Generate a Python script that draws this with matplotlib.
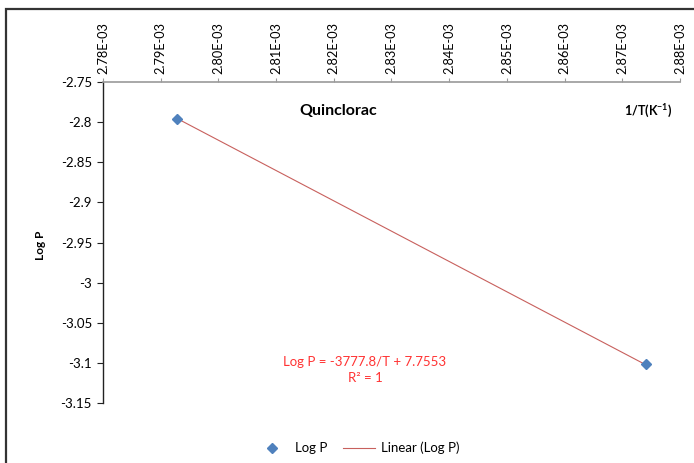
import numpy as np
import matplotlib.pyplot as plt
from matplotlib.patches import Rectangle

plt.rcParams['font.family'] = ['Lato', 'DejaVu Sans']
plt.rcParams['mathtext.default'] = 'regular'

# data
inv_T = [2.7929e-3, 2.8741e-3]
log_p = [-2.796, -3.102]
slope = -3777.8
intercept = 7.7553

x_ticks = np.arange(2.78e-3, 2.8805e-3, 0.01e-3)
y_ticks = [-3.15, -3.1, -3.05, -3.0, -2.95, -2.9, -2.85, -2.8, -2.75]
y_labels = ['-3.15', '-3.1', '-3.05', '-3', '-2.95', '-2.9', '-2.85', '-2.8', '-2.75']

fig = plt.figure(figsize=(6.94, 4.63), dpi=100)
# outer chart frame
fig.patches.append(Rectangle((6/694, -0.05), 1.1, 1 - 9/463 + 0.05, transform=fig.transFigure,
                             fill=False, edgecolor='#333333', linewidth=1.6))

ax = fig.add_axes([103/694, 1 - 403/463, (680 - 103)/694, (403 - 82)/463])

xs = np.array(inv_T)
fit = slope * xs + intercept
ax.plot(xs, fit, color='#C8605D', linewidth=0.8, label='Linear (Log P)', zorder=2)
ax.plot(inv_T, log_p, linestyle='none', marker='D', markersize=5.5, color='#4F81BD',
        label='Log P', zorder=3)

ax.set_xlim(2.78e-3, 2.88e-3)
ax.set_ylim(-3.15, -2.75)
ax.set_xticks(x_ticks)
ax.set_xticklabels(['%.2E' % v for v in x_ticks], rotation=90, fontsize=9.2)
ax.set_yticks(y_ticks)
ax.set_yticklabels(y_labels, fontsize=9.5)

ax.xaxis.tick_top()
ax.spines['right'].set_visible(False)
ax.spines['bottom'].set_visible(False)
ax.spines['top'].set_color('#9a9a9a')
ax.spines['top'].set_linewidth(1.2)
ax.spines['left'].set_color('#222222')
ax.spines['left'].set_linewidth(1.0)
ax.tick_params(axis='x', direction='out', length=3, color='#9a9a9a', pad=3)
ax.tick_params(axis='y', direction='out', length=4, color='#222222', pad=4)

fig.text(338/694, 1 - 111/463, 'Quinclorac', ha='center', va='center', fontsize=11.5, fontweight='bold')
fig.text(648/694, 1 - 111/463, '1/T(K$^{-1}$)', ha='center', va='center', fontsize=9, fontweight='bold')
fig.text(40/694, 1 - 245/463, 'Log P', ha='center', va='center', rotation=90, fontsize=8.5, fontweight='bold')

fig.text(365/694, 1 - 362/463, 'Log P = -3777.8/T + 7.7553', ha='center', va='center',
         fontsize=9.5, color='#FF3333')
fig.text(365/694, 1 - 378/463, 'R² = 1', ha='center', va='center', fontsize=9.5, color='#FF3333')

handles, labels = ax.get_legend_handles_labels()
fig.legend(handles[::-1], labels[::-1], loc='center', bbox_to_anchor=(358/694, 1 - 448/463),
           ncol=2, frameon=False, fontsize=9.5, handlelength=2.4, handletextpad=0.5,
           columnspacing=1.2)

fig.savefig('out.png', dpi=100)
